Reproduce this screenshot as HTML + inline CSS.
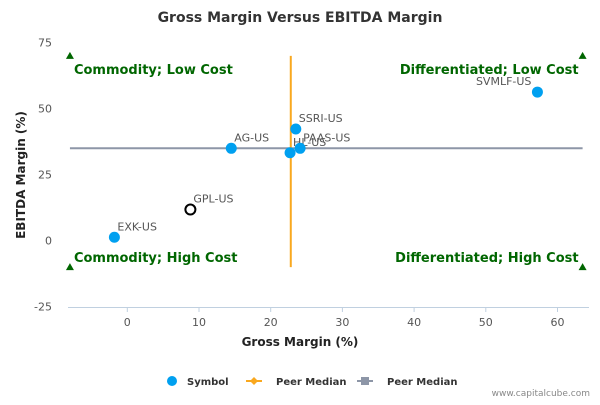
<!DOCTYPE html>
<html><head><meta charset="utf-8"><style>
body{margin:0;background:#fff;font-family:"Liberation Sans","DejaVu Sans",sans-serif}
svg text{font-family:"DejaVu Sans","Liberation Sans",sans-serif}
</style></head><body>
<svg id="c" width="600" height="400" viewBox="0 0 600 400">
<text x="300" y="22" text-anchor="middle" font-size="14" font-weight="bold" fill="#333">Gross Margin Versus EBITDA Margin</text>
<g id="axes"></g><g id="marks"></g>
<text x="300" y="346" text-anchor="middle" font-size="12" font-weight="bold" fill="#222">Gross Margin (%)</text>
<text transform="translate(25,175) rotate(-90)" text-anchor="middle" font-size="12" font-weight="bold" fill="#222">EBITDA Margin (%)</text>
<g font-size="10" font-weight="bold" fill="#333">
<g><circle cx="172" cy="381" r="5" fill="#00a0f0"/><text x="187" y="385">Symbol</text></g>
<g><line x1="246" y1="381" x2="262" y2="381" stroke="#f9a81f" stroke-width="2"/><path d="M254 377 L258 381 L254 385 L250 381Z" fill="#f9a81f"/><text x="276" y="385">Peer Median</text></g>
<g><line x1="357" y1="381" x2="373" y2="381" stroke="#8d96a7" stroke-width="2"/><rect x="361" y="377" width="8" height="8" fill="#8d96a7"/><text x="387" y="385">Peer Median</text></g>
</g>
<text x="590" y="396" text-anchor="end" font-size="9" fill="#888">www.capitalcube.com</text>
</svg>
<script>
const symbols=["EXK-US","GPL-US","AG-US","HL-US","PAAS-US","SSRI-US","SVMLF-US"];
const grossMargin=[-1.8,8.8,14.5,22.7,24.1,23.5,57.2];
const ebitdaMargin=[1.3,11.8,35,33.3,35,42.3,56.3];
const highlighted=[false,true,false,false,false,false,false];
const medianX=22.8, medianY=35;
const xTicks=[0,10,20,30,40,50,60];
const yTicks=[-25,0,25,50,75];
const quadrants=[["Commodity; Low Cost",-8,70],["Differentiated; Low Cost",63.5,70],["Commodity; High Cost",-8,-10],["Differentiated; High Cost",63.5,-10]];
const X=v=>127.3+v*7.17, Y=v=>240.7-v*2.64;
const NS="http://www.w3.org/2000/svg";
function mk(t,a,p,txt){const e=document.createElementNS(NS,t);for(const k in a)e.setAttribute(k,a[k]);if(txt!=null)e.textContent=txt;p.appendChild(e);return e;}
const ax=document.getElementById('axes'),mg=document.getElementById('marks');
const xl=mk('line',{x1:68,y1:307.5,x2:589,y2:307.5,stroke:'#c0d0e0'},ax);


xTicks.forEach(t=>{
 const l=mk('line',{x1:X(t),y1:307,x2:X(t),y2:312,stroke:'#c0d0e0'},ax);
 
 
 const s=mk('text',{x:X(t),y:326,'text-anchor':'middle','font-size':11,fill:'#555'},ax,t);
 
 
});
yTicks.forEach(t=>{
 const s=mk('text',{x:52,y:Y(t)+4,'text-anchor':'end','font-size':11,fill:'#555'},ax,t);
 
 
});
const hy=mk('line',{x1:X(-8),y1:Y(medianY),x2:X(63.5),y2:Y(medianY),stroke:'#8d96a7','stroke-width':2},mg);


const vx=mk('line',{x1:X(medianX),y1:Y(70),x2:X(medianX),y2:Y(-10),stroke:'#f9a81f','stroke-width':2},mg);


quadrants.forEach(q=>{
 const x=X(q[1]),y=Y(q[2]);
 const tr=mk('path',{d:`M${x} ${y-4} L${x+4} ${y+3} L${x-4} ${y+3}Z`,fill:'#006600'},mg);
 
 
 const left=q[1]<0, top=q[2]>0;
 const t=mk('text',{x:left?x+4:x-4,y:top?y+18:y-5,'text-anchor':left?'start':'end','font-size':13,'font-weight':'bold',fill:'#006600'},mg,q[0]);
 
 
});
symbols.forEach((s,i)=>{
 const cx=X(grossMargin[i]),cy=Y(ebitdaMargin[i]);
 const c=highlighted[i]?mk('circle',{cx,cy,r:5,fill:'#fff',stroke:'#000','stroke-width':2},mg):mk('circle',{cx,cy,r:5.5,fill:'#00a0f0'},mg);
 
 
 const t=mk('text',{x:s==="SVMLF-US"?cx-6:cx+3,y:cy-7,'text-anchor':s==="SVMLF-US"?'end':'start','font-size':11,fill:'#555'},mg,s);
 
 
});
</script>
</body></html>
